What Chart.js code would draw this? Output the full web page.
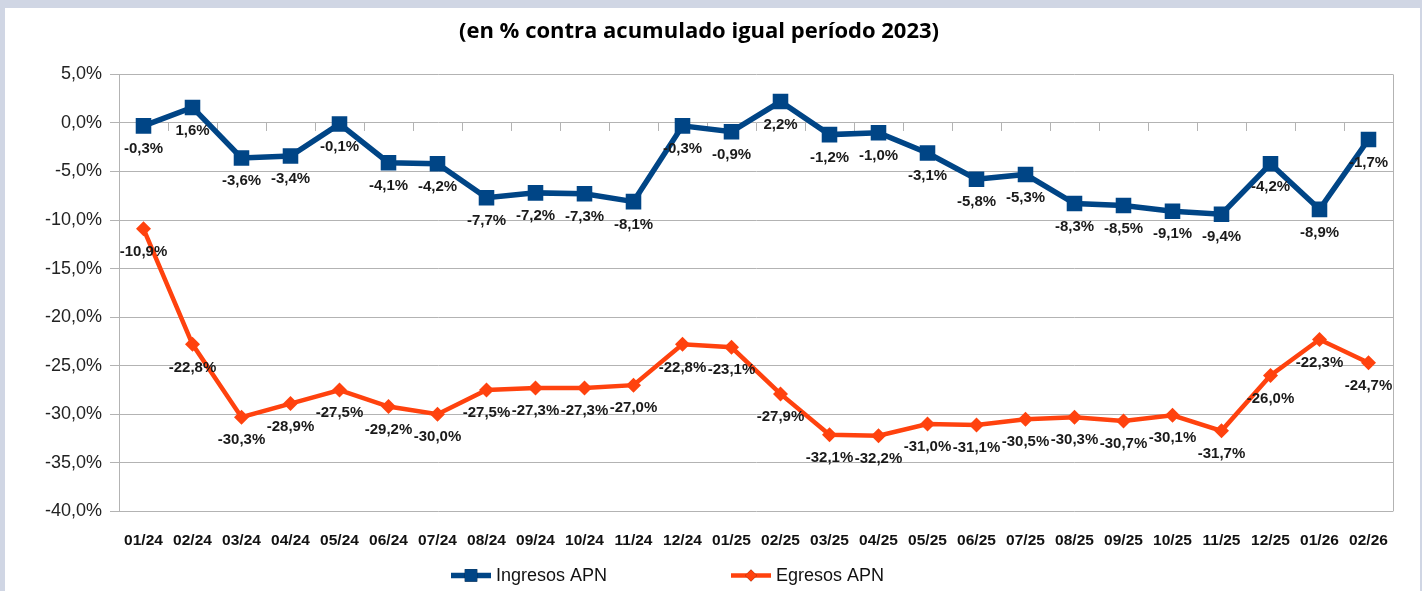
<!DOCTYPE html>
<html>
<head>
<meta charset="utf-8">
<script src="https://cdn.jsdelivr.net/npm/chart.js@4.4.1/dist/chart.umd.min.js"></script>
<style>
  html, body { margin: 0; padding: 0; background: #d0d6e4; }
  #wrap { position: absolute; left: 5px; top: 8px; width: 1415px; height: 583px; background: #fff; }
</style>
</head>
<body>
<div id="wrap"><canvas id="chart" width="1415" height="583"></canvas></div>
<script>
const meses = ["01/24","02/24","03/24","04/24","05/24","06/24","07/24","08/24","09/24","10/24","11/24","12/24",
  "01/25","02/25","03/25","04/25","05/25","06/25","07/25","08/25","09/25","10/25","11/25","12/25","01/26","02/26"];
const ingresos = [-0.3, 1.6, -3.6, -3.4, -0.1, -4.1, -4.2, -7.7, -7.2, -7.3, -8.1, -0.3,
  -0.9, 2.2, -1.2, -1.0, -3.1, -5.8, -5.3, -8.3, -8.5, -9.1, -9.4, -4.2, -8.9, -1.7];
const egresos = [-10.9, -22.8, -30.3, -28.9, -27.5, -29.2, -30.0, -27.5, -27.3, -27.3, -27.0, -22.8,
  -23.1, -27.9, -32.1, -32.2, -31.0, -31.1, -30.5, -30.3, -30.7, -30.1, -31.7, -26.0, -22.3, -24.7];
const yMin = -40;
const yMax = 5;
const yStep = 5;

const fmt = (v) => v.toFixed(1).replace(".", ",") + "%";

// marco del area de grafico, marcas del eje en 0 y borde derecho
const framePlugin = {
  id: "frame",
  beforeDatasetsDraw(chart) {
    const { ctx, chartArea } = chart;
    const y0 = chart.scales.y.getPixelForValue(0);
    ctx.save();
    ctx.strokeStyle = "#b3b3b3";
    ctx.lineWidth = 1;
    ctx.beginPath();
    ctx.moveTo(chartArea.right + 0.5, chartArea.top);
    ctx.lineTo(chartArea.right + 0.5, chartArea.bottom);
    const w = (chartArea.right - chartArea.left) / meses.length;
    for (let i = 1; i < meses.length; i++) {
      const px = Math.round(chartArea.left + i * w) + 0.5;
      ctx.moveTo(px, y0);
      ctx.lineTo(px, y0 + 8);
    }
    ctx.stroke();
    ctx.restore();
  }
};

// etiquetas de valores debajo de cada punto
const labelsPlugin = {
  id: "valueLabels",
  afterDatasetsDraw(chart) {
    const { ctx } = chart;
    ctx.save();
    ctx.font = "bold 15px 'Liberation Sans', Arial, sans-serif";
    ctx.fillStyle = "#1a1a1a";
    ctx.textAlign = "center";
    ctx.textBaseline = "middle";
    chart.data.datasets.forEach((ds, di) => {
      const meta = chart.getDatasetMeta(di);
      meta.data.forEach((pt, i) => {
        ctx.fillText(fmt(ds.data[i]), pt.x, pt.y + 23);
      });
    });
    ctx.restore();
  }
};

// leyenda con linea + marcador
const legendPlugin = {
  id: "lineLegend",
  afterDraw(chart) {
    const { ctx, chartArea } = chart;
    const cy = chartArea.bottom + 64;
    const starts = [chartArea.left + 332, chartArea.left + 612];
    ctx.save();
    ctx.font = "18px 'Liberation Sans', Arial, sans-serif";
    ctx.textBaseline = "middle";
    ctx.textAlign = "left";
    chart.data.datasets.forEach((ds, di) => {
      const x0 = starts[di];
      ctx.strokeStyle = ds.borderColor;
      ctx.lineWidth = ds.borderWidth;
      ctx.beginPath();
      ctx.moveTo(x0, cy);
      ctx.lineTo(x0 + 40, cy);
      ctx.stroke();
      Chart.helpers.drawPoint(ctx, {
        pointStyle: ds.pointStyle,
        radius: ds.pointRadius * 0.8,
        borderWidth: 0
      }, x0 + 20, cy);
      ctx.fillStyle = ds.borderColor;
      ctx.fill();
      ctx.fillStyle = "#111";
      ctx.fillText(ds.label, x0 + 45, cy + 1);
    });
    ctx.restore();
  }
};

new Chart(document.getElementById("chart"), {
  type: "line",
  data: {
    labels: meses,
    datasets: [
      {
        label: "Ingresos APN",
        data: ingresos,
        borderColor: "#004586",
        backgroundColor: "#004586",
        borderWidth: 5.5,
        pointStyle: "rect",
        pointRadius: 11,
        pointBorderWidth: 0,
        tension: 0
      },
      {
        label: "Egresos APN",
        data: egresos,
        borderColor: "#ff420e",
        backgroundColor: "#ff420e",
        borderWidth: 4.5,
        pointStyle: "rectRot",
        pointRadius: 7.5,
        pointBorderWidth: 0,
        tension: 0
      }
    ]
  },
  options: {
    responsive: false,
    animation: false,
    layout: { padding: { left: 0, right: 27, top: 0, bottom: 21 } },
    plugins: {
      legend: { display: false },
      tooltip: { enabled: false },
      title: {
        display: true,
        text: "(en % contra acumulado igual período 2023)",
        color: "#000",
        font: { family: "'Open Sans', sans-serif", size: 22, weight: "bold" },
        padding: { top: 11, bottom: 29 }
      }
    },
    scales: {
      x: {
        offset: true,
        grid: { display: false, drawTicks: false },
        border: { display: false },
        ticks: {
          color: "#111",
          padding: 20,
          maxRotation: 0,
          autoSkip: false,
          font: { family: "'Liberation Sans', Arial, sans-serif", size: 15.5, weight: "bold" }
        }
      },
      y: {
        min: yMin,
        max: yMax,
        afterFit(scale) { scale.width = 114; },
        grid: { color: "#b3b3b3", tickLength: 9, lineWidth: 1 },
        border: { display: true, color: "#b3b3b3" },
        ticks: {
          stepSize: yStep,
          padding: 8,
          color: "#222",
          font: { family: "'Liberation Sans', Arial, sans-serif", size: 18 },
          callback: (v) => fmt(v)
        }
      }
    }
  },
  plugins: [framePlugin, labelsPlugin, legendPlugin]
});
</script>
</body>
</html>
